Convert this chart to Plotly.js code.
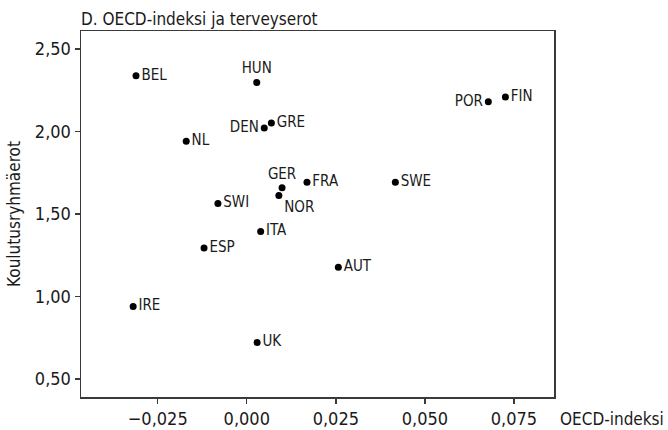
<!DOCTYPE html>
<html>
<head>
<meta charset="utf-8">
<script src="https://cdn.plot.ly/plotly-3.0.1.min.js"></script>
<style>html,body{margin:0;padding:0;background:#fff;}#chart{width:668px;height:430px;}</style>
</head>
<body>
<div id="chart"></div>
<script>
var countries = ['BEL','HUN','DEN','GRE','NL','GER','FRA','NOR','SWI','POR','FIN','SWE','ITA','ESP','IRE','UK','AUT'];
var oecdIndex = [-0.0311, 0.0028, 0.0049, 0.0069, -0.0170, 0.0099, 0.0169, 0.0090, -0.0081, 0.0678, 0.0726, 0.0417, 0.0039, -0.0120, -0.0319, 0.0029, 0.0257];
var eduDiff   = [2.338, 2.298, 2.022, 2.052, 1.941, 1.659, 1.693, 1.613, 1.564, 2.181, 2.210, 1.693, 1.395, 1.294, 0.940, 0.722, 1.178];
var labelPos  = ['middle right','top center','middle left','middle right','middle right','top center','middle right','bottom right','middle right','middle left','middle right','middle right','middle right','middle right','middle right','middle right','middle right'];
var xTicks = [-0.025, 0, 0.025, 0.05, 0.075];
var yTicks = [0.5, 1.0, 1.5, 2.0, 2.5];

var FONT = '"DejaVu Sans Condensed", "Open Sans", sans-serif';
var INK = '#1a1a1a';

var trace = {
  type: 'scatter',
  mode: 'markers+text',
  x: oecdIndex,
  y: eduDiff,
  text: countries,
  textposition: labelPos,
  textfont: {family: FONT, size: 15, color: INK},
  marker: {color: '#000', size: 7},
  hoverinfo: 'x+y+text',
  cliponaxis: false
};

var axisCommon = {
  showline: true, mirror: true, linecolor: '#3a3a3a', linewidth: 1.5,
  ticks: 'outside', ticklen: 5, tickwidth: 1.3, tickcolor: '#3a3a3a',
  showgrid: false, zeroline: false,
  tickfont: {family: FONT, size: 18, color: INK}
};

var layout = {
  width: 668, height: 430,
  margin: {l: 81, r: 114, t: 31, b: 33},
  paper_bgcolor: '#fff', plot_bgcolor: '#fff',
  separators: ', ',
  showlegend: false,
  title: {
    text: 'D. OECD-indeksi ja terveyserot',
    font: {family: FONT, size: 17, color: INK},
    xref: 'paper', x: 0, xanchor: 'left',
    yref: 'paper', y: 1, yanchor: 'bottom', pad: {b: 6}
  },
  xaxis: Object.assign({}, axisCommon, {
    range: [-0.04654, 0.08624],
    tickvals: xTicks, tickformat: '.3f'
  }),
  yaxis: Object.assign({}, axisCommon, {
    range: [0.391, 2.61],
    tickvals: yTicks, tickformat: '.2f',
    title: {text: 'Koulutusryhmäerot', font: {family: FONT, size: 17, color: INK}, standoff: 10}
  }),
  annotations: [{
    text: 'OECD-indeksi', xref: 'paper', yref: 'paper', x: 1, y: 0,
    xanchor: 'left', yanchor: 'top', xshift: 4, yshift: -10, showarrow: false,
    font: {family: FONT, size: 17, color: INK}
  }]
};

Plotly.newPlot('chart', [trace], layout, {displayModeBar: false, staticPlot: true});
</script>
</body>
</html>
